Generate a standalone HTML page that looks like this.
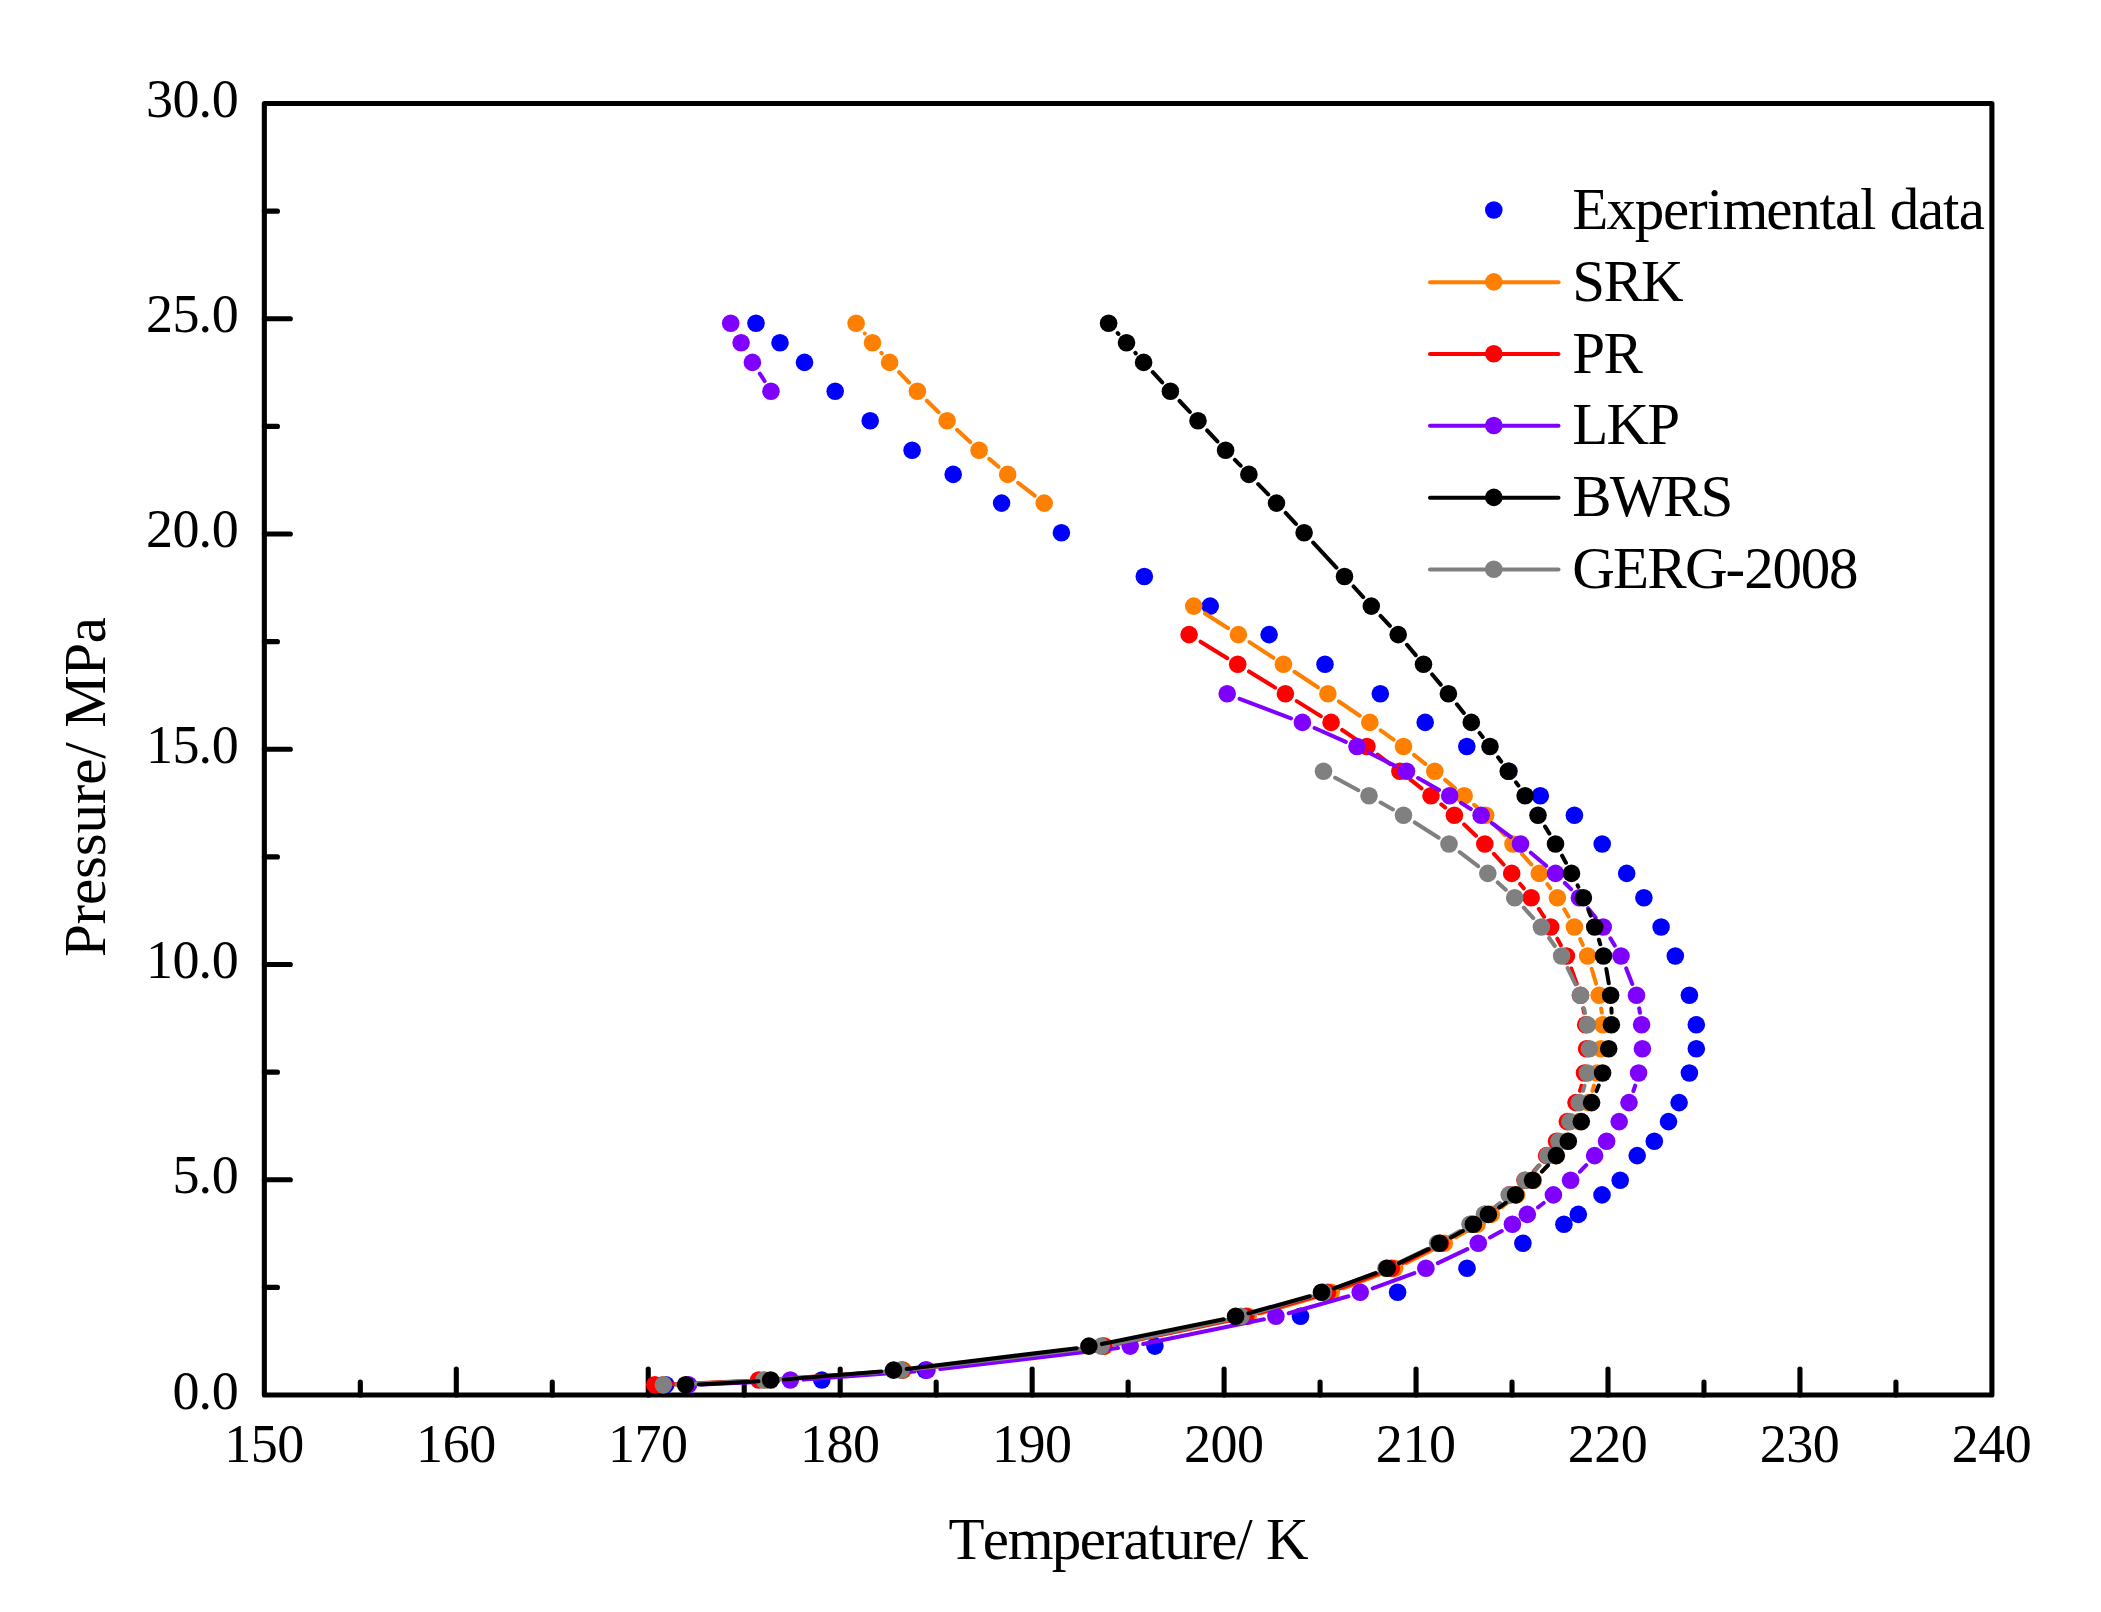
<!DOCTYPE html>
<html><head><meta charset="utf-8"><title>Phase envelope</title>
<style>html,body{margin:0;padding:0;background:#fff}svg{display:block}</style></head>
<body>
<svg width="2101" height="1612" viewBox="0 0 2101 1612">
<rect width="2101" height="1612" fill="#fff"/>
<rect x="264.35" y="103.55" width="1727.55" height="1291.50" fill="none" stroke="#000" stroke-width="5.1" stroke-linejoin="round"/>
<path d="M264.35 1287.42h13.1M264.35 1179.80h26.0M264.35 1072.17h13.1M264.35 964.55h26.0M264.35 856.92h13.1M264.35 749.30h26.0M264.35 641.67h13.1M264.35 534.05h26.0M264.35 426.42h13.1M264.35 318.80h26.0M264.35 211.17h13.1M360.33 1395.05v-13.1M456.30 1395.05v-26.0M552.28 1395.05v-13.1M648.25 1395.05v-26.0M744.23 1395.05v-13.1M840.20 1395.05v-26.0M936.18 1395.05v-13.1M1032.15 1395.05v-26.0M1128.13 1395.05v-13.1M1224.10 1395.05v-26.0M1320.08 1395.05v-13.1M1416.05 1395.05v-26.0M1512.03 1395.05v-13.1M1608.00 1395.05v-26.0M1703.98 1395.05v-13.1M1799.95 1395.05v-26.0M1895.93 1395.05v-13.1" stroke="#000" stroke-width="5.1" stroke-linecap="round" fill="none"/>
<g font-family="'Liberation Serif', 'Times New Roman', Times, serif">
<text  x="172.38 198.62 211.75" y="1408.5" font-size="54.0" fill="#000" font-kerning="none" style="font-kerning:none">0.0</text>
<text  x="172.38 198.62 211.75" y="1193.2" font-size="54.0" fill="#000" font-kerning="none" style="font-kerning:none">5.0</text>
<text  x="146.12 172.38 198.62 211.75" y="977.9" font-size="54.0" fill="#000" font-kerning="none" style="font-kerning:none">10.0</text>
<text  x="146.12 172.38 198.62 211.75" y="762.7" font-size="54.0" fill="#000" font-kerning="none" style="font-kerning:none">15.0</text>
<text  x="146.12 172.38 198.62 211.75" y="547.4" font-size="54.0" fill="#000" font-kerning="none" style="font-kerning:none">20.0</text>
<text  x="146.12 172.38 198.62 211.75" y="332.2" font-size="54.0" fill="#000" font-kerning="none" style="font-kerning:none">25.0</text>
<text  x="146.12 172.38 198.62 211.75" y="116.9" font-size="54.0" fill="#000" font-kerning="none" style="font-kerning:none">30.0</text>
<text  x="224.13 250.68 277.23" y="1462.3" font-size="54.0" fill="#000" font-kerning="none" style="font-kerning:none">150</text>
<text  x="416.08 442.63 469.18" y="1462.3" font-size="54.0" fill="#000" font-kerning="none" style="font-kerning:none">160</text>
<text  x="608.02 634.57 661.12" y="1462.3" font-size="54.0" fill="#000" font-kerning="none" style="font-kerning:none">170</text>
<text  x="799.98 826.53 853.08" y="1462.3" font-size="54.0" fill="#000" font-kerning="none" style="font-kerning:none">180</text>
<text  x="991.92 1018.47 1045.02" y="1462.3" font-size="54.0" fill="#000" font-kerning="none" style="font-kerning:none">190</text>
<text  x="1183.88 1210.42 1236.97" y="1462.3" font-size="54.0" fill="#000" font-kerning="none" style="font-kerning:none">200</text>
<text  x="1375.83 1402.38 1428.92" y="1462.3" font-size="54.0" fill="#000" font-kerning="none" style="font-kerning:none">210</text>
<text  x="1567.77 1594.32 1620.87" y="1462.3" font-size="54.0" fill="#000" font-kerning="none" style="font-kerning:none">220</text>
<text  x="1759.72 1786.27 1812.82" y="1462.3" font-size="54.0" fill="#000" font-kerning="none" style="font-kerning:none">230</text>
<text  x="1951.68 1978.23 2004.78" y="1462.3" font-size="54.0" fill="#000" font-kerning="none" style="font-kerning:none">240</text>
<text  x="948.40 982.82 1007.83 1051.66 1079.84 1104.85 1123.61 1148.62 1164.28 1192.45 1211.22 1236.23 1251.89 1265.97" y="1559.0" font-size="59.0" fill="#000" font-kerning="none" style="font-kerning:none">Temperature/ K</text>
<g transform="translate(105.2,956.9) rotate(-90)"><text  x="0.00 32.53 52.02 77.98 100.75 123.51 152.76 172.24 198.21 214.46 229.09 281.10 313.64" y="0.0" font-size="59.0" fill="#000" font-kerning="none" style="font-kerning:none">Pressure/ MPa</text></g>
<text  x="1572.20 1606.62 1634.80 1662.97 1687.98 1706.75 1722.40 1766.23 1791.24 1819.42 1835.07 1860.09 1875.74 1889.83 1918.00 1943.01 1958.67" y="229.1" font-size="59.0" fill="#000" font-kerning="none" style="font-kerning:none">Experimental data</text>
<text  x="1572.20 1603.54 1641.12" y="300.8" font-size="59.0" fill="#000" font-kerning="none" style="font-kerning:none">SRK</text>
<text  x="1572.20 1603.54" y="372.5" font-size="59.0" fill="#000" font-kerning="none" style="font-kerning:none">PR</text>
<text  x="1572.20 1606.62 1647.31" y="444.1" font-size="59.0" fill="#000" font-kerning="none" style="font-kerning:none">LKP</text>
<text  x="1572.20 1609.79 1662.97 1700.56" y="515.8" font-size="59.0" fill="#000" font-kerning="none" style="font-kerning:none">BWRS</text>
<text  x="1572.20 1612.89 1647.31 1684.90 1725.59 1744.36 1772.53 1800.71 1828.88" y="587.5" font-size="59.0" fill="#000" font-kerning="none" style="font-kerning:none">GERG-2008</text>
</g>
<circle cx="1493.8" cy="210.0" r="8.8" fill="#0000ff"/>
<path d="M1430.0 282.2H1558.5" stroke="#ff8000" stroke-width="4.05" stroke-linecap="round"/>
<circle cx="1493.8" cy="281.9" r="8.8" fill="#ff8000"/>
<path d="M1430.0 354.0H1558.5" stroke="#ff0000" stroke-width="4.05" stroke-linecap="round"/>
<circle cx="1493.8" cy="353.7" r="8.8" fill="#ff0000"/>
<path d="M1430.0 425.8H1558.5" stroke="#8000ff" stroke-width="4.05" stroke-linecap="round"/>
<circle cx="1493.8" cy="425.5" r="8.8" fill="#8000ff"/>
<path d="M1430.0 497.7H1558.5" stroke="#000000" stroke-width="4.05" stroke-linecap="round"/>
<circle cx="1493.8" cy="497.4" r="8.8" fill="#000000"/>
<path d="M1430.0 569.5H1558.5" stroke="#808080" stroke-width="4.05" stroke-linecap="round"/>
<circle cx="1493.8" cy="569.2" r="8.8" fill="#808080"/>
<g fill="#0000ff"><circle cx="756.0" cy="323.2" r="8.8"/><circle cx="780.0" cy="342.8" r="8.8"/><circle cx="804.5" cy="362.4" r="8.8"/><circle cx="835.2" cy="391.2" r="8.8"/><circle cx="870.2" cy="420.7" r="8.8"/><circle cx="912.1" cy="450.2" r="8.8"/><circle cx="953.2" cy="474.4" r="8.8"/><circle cx="1001.6" cy="503.1" r="8.8"/><circle cx="1061.4" cy="532.7" r="8.8"/><circle cx="1144.3" cy="576.5" r="8.8"/><circle cx="1210.2" cy="606.1" r="8.8"/><circle cx="1269.1" cy="634.6" r="8.8"/><circle cx="1325.0" cy="664.3" r="8.8"/><circle cx="1380.3" cy="693.8" r="8.8"/><circle cx="1425.2" cy="722.4" r="8.8"/><circle cx="1466.8" cy="746.5" r="8.8"/><circle cx="1509.0" cy="771.3" r="8.8"/><circle cx="1540.3" cy="795.7" r="8.8"/><circle cx="1574.4" cy="815.2" r="8.8"/><circle cx="1602.2" cy="844.0" r="8.8"/><circle cx="1626.7" cy="873.4" r="8.8"/><circle cx="1643.9" cy="897.8" r="8.8"/><circle cx="1661.1" cy="927.0" r="8.8"/><circle cx="1675.3" cy="956.0" r="8.8"/><circle cx="1689.4" cy="995.3" r="8.8"/><circle cx="1696.3" cy="1024.8" r="8.8"/><circle cx="1696.3" cy="1048.8" r="8.8"/><circle cx="1689.4" cy="1073.0" r="8.8"/><circle cx="1679.1" cy="1102.6" r="8.8"/><circle cx="1668.5" cy="1121.6" r="8.8"/><circle cx="1654.3" cy="1141.3" r="8.8"/><circle cx="1637.2" cy="1155.6" r="8.8"/><circle cx="1620.2" cy="1180.3" r="8.8"/><circle cx="1602.0" cy="1194.9" r="8.8"/><circle cx="1578.3" cy="1214.4" r="8.8"/><circle cx="1563.9" cy="1224.3" r="8.8"/><circle cx="1522.9" cy="1243.2" r="8.8"/><circle cx="1467.0" cy="1268.2" r="8.8"/><circle cx="1397.6" cy="1292.3" r="8.8"/><circle cx="1300.5" cy="1316.2" r="8.8"/><circle cx="1154.9" cy="1346.1" r="8.8"/><circle cx="925.4" cy="1370.1" r="8.8"/><circle cx="821.8" cy="1380.0" r="8.8"/><circle cx="665.8" cy="1384.7" r="8.8"/></g>
<path transform="translate(0.5,0.5)" d="M864.3 333.0L864.3 333.0M880.9 352.4L881.2 352.8M898.5 371.6L908.5 382.0M926.4 400.2L938.1 411.7M956.5 429.3L969.7 441.6M988.8 458.4L998.0 466.2M1017.7 482.3L1034.2 495.2M1204.5 613.0L1227.6 627.7M1249.0 641.6L1272.8 657.3M1294.0 671.3L1317.3 686.8M1338.4 701.0L1359.3 715.2M1380.2 729.8L1393.1 739.1M1413.5 754.4L1424.8 763.4M1444.6 779.4L1454.4 787.6M1473.6 804.3L1476.3 806.6M1494.5 824.5L1504.2 834.7M1521.5 853.5L1530.8 863.9M1546.9 883.6L1549.8 887.6M1563.8 908.8L1568.0 916.0M1579.7 938.6L1582.3 944.4M1591.2 968.2L1595.6 983.1M1600.7 1008.0L1601.3 1012.1M1593.5 1085.2L1591.9 1090.4M1547.0 1165.1L1541.8 1170.8M1506.5 1202.7L1501.4 1206.6M1466.1 1230.7L1455.3 1236.8M1432.9 1248.9L1405.9 1262.5M1382.6 1272.7L1343.1 1287.8M1318.9 1295.8L1260.5 1312.7M1235.7 1318.8L1117.4 1343.5M1092.2 1347.6L916.1 1368.6M890.7 1371.0L777.2 1379.1M751.8 1380.6L675.7 1384.1" stroke="#ff8000" stroke-width="4.05" stroke-linecap="round" fill="none"/>
<g fill="#ff8000"><circle cx="856.1" cy="323.2" r="8.8"/><circle cx="872.5" cy="342.8" r="8.8"/><circle cx="889.6" cy="362.4" r="8.8"/><circle cx="917.4" cy="391.2" r="8.8"/><circle cx="947.1" cy="420.7" r="8.8"/><circle cx="979.1" cy="450.2" r="8.8"/><circle cx="1007.7" cy="474.4" r="8.8"/><circle cx="1044.2" cy="503.1" r="8.8"/><circle cx="1193.7" cy="606.1" r="8.8"/><circle cx="1238.4" cy="634.6" r="8.8"/><circle cx="1283.4" cy="664.3" r="8.8"/><circle cx="1327.9" cy="693.8" r="8.8"/><circle cx="1369.8" cy="722.4" r="8.8"/><circle cx="1403.5" cy="746.5" r="8.8"/><circle cx="1434.8" cy="771.3" r="8.8"/><circle cx="1464.2" cy="795.7" r="8.8"/><circle cx="1485.7" cy="815.2" r="8.8"/><circle cx="1513.0" cy="844.0" r="8.8"/><circle cx="1539.3" cy="873.4" r="8.8"/><circle cx="1557.4" cy="897.8" r="8.8"/><circle cx="1574.4" cy="927.0" r="8.8"/><circle cx="1587.6" cy="956.0" r="8.8"/><circle cx="1599.2" cy="995.3" r="8.8"/><circle cx="1602.8" cy="1024.8" r="8.8"/><circle cx="1601.1" cy="1048.8" r="8.8"/><circle cx="1597.1" cy="1073.0" r="8.8"/><circle cx="1588.3" cy="1102.6" r="8.8"/><circle cx="1579.3" cy="1121.6" r="8.8"/><circle cx="1566.6" cy="1141.3" r="8.8"/><circle cx="1555.5" cy="1155.6" r="8.8"/><circle cx="1533.3" cy="1180.3" r="8.8"/><circle cx="1516.6" cy="1194.9" r="8.8"/><circle cx="1491.3" cy="1214.4" r="8.8"/><circle cx="1477.1" cy="1224.3" r="8.8"/><circle cx="1444.3" cy="1243.2" r="8.8"/><circle cx="1394.5" cy="1268.2" r="8.8"/><circle cx="1331.2" cy="1292.3" r="8.8"/><circle cx="1248.2" cy="1316.2" r="8.8"/><circle cx="1104.9" cy="1346.1" r="8.8"/><circle cx="903.4" cy="1370.1" r="8.8"/><circle cx="764.5" cy="1380.0" r="8.8"/><circle cx="663.0" cy="1384.7" r="8.8"/></g>
<path transform="translate(0.5,0.5)" d="M1200.0 641.2L1226.8 657.7M1248.5 671.0L1274.6 687.1M1296.2 700.6L1320.3 715.6M1341.7 729.5L1356.3 739.4M1377.1 754.2L1389.7 763.6M1409.9 779.2L1421.0 787.8M1440.8 803.9L1444.6 807.0M1463.7 824.0L1475.5 835.2M1493.4 853.4L1503.1 864.0M1519.7 883.4L1523.2 887.8M1538.3 908.4L1543.6 916.4M1556.8 938.2L1560.3 944.8M1570.7 968.0L1576.2 983.3M1582.7 1007.9L1583.5 1012.2M1581.0 1085.3L1579.5 1090.3M1538.2 1165.2L1533.4 1170.7M1499.5 1202.8L1495.0 1206.5M1460.2 1231.0L1451.3 1236.5M1429.1 1249.0L1402.6 1262.4M1379.3 1272.7L1339.4 1287.8M1315.3 1295.9L1258.0 1312.6M1233.3 1318.8L1116.0 1343.5M1090.8 1347.6L914.7 1368.6M889.3 1371.0L771.4 1379.1M746.0 1380.6L667.5 1384.1" stroke="#ff0000" stroke-width="4.05" stroke-linecap="round" fill="none"/>
<g fill="#ff0000"><circle cx="1189.1" cy="634.6" r="8.8"/><circle cx="1237.7" cy="664.3" r="8.8"/><circle cx="1285.4" cy="693.8" r="8.8"/><circle cx="1331.1" cy="722.4" r="8.8"/><circle cx="1366.9" cy="746.5" r="8.8"/><circle cx="1399.9" cy="771.3" r="8.8"/><circle cx="1431.0" cy="795.7" r="8.8"/><circle cx="1454.4" cy="815.2" r="8.8"/><circle cx="1484.8" cy="844.0" r="8.8"/><circle cx="1511.7" cy="873.4" r="8.8"/><circle cx="1531.2" cy="897.8" r="8.8"/><circle cx="1550.7" cy="927.0" r="8.8"/><circle cx="1566.4" cy="956.0" r="8.8"/><circle cx="1580.5" cy="995.3" r="8.8"/><circle cx="1585.7" cy="1024.8" r="8.8"/><circle cx="1586.6" cy="1048.8" r="8.8"/><circle cx="1584.5" cy="1073.0" r="8.8"/><circle cx="1576.0" cy="1102.6" r="8.8"/><circle cx="1567.3" cy="1121.6" r="8.8"/><circle cx="1556.6" cy="1141.3" r="8.8"/><circle cx="1546.6" cy="1155.6" r="8.8"/><circle cx="1525.0" cy="1180.3" r="8.8"/><circle cx="1509.5" cy="1194.9" r="8.8"/><circle cx="1485.0" cy="1214.4" r="8.8"/><circle cx="1471.0" cy="1224.3" r="8.8"/><circle cx="1440.5" cy="1243.2" r="8.8"/><circle cx="1391.2" cy="1268.2" r="8.8"/><circle cx="1327.5" cy="1292.3" r="8.8"/><circle cx="1245.8" cy="1316.2" r="8.8"/><circle cx="1103.5" cy="1346.1" r="8.8"/><circle cx="902.0" cy="1370.1" r="8.8"/><circle cx="758.7" cy="1380.0" r="8.8"/><circle cx="654.8" cy="1384.7" r="8.8"/></g>
<path transform="translate(0.5,0.5)" d="M759.3 373.1L764.1 380.5M1239.1 698.3L1290.5 717.9M1314.1 727.5L1345.3 741.4M1368.4 752.2L1395.1 765.6M1417.6 777.6L1438.6 789.4M1460.5 802.4L1470.3 808.5M1491.4 822.7L1510.2 836.5M1530.3 852.2L1545.7 865.2M1564.4 882.5L1570.5 888.7M1587.5 907.7L1595.1 917.1M1609.9 937.9L1614.3 945.1M1625.7 967.9L1631.8 983.4M1638.7 1007.9L1639.4 1012.2M1634.7 1085.1L1632.9 1090.5M1585.7 1164.7L1579.5 1171.2M1543.2 1202.5L1537.5 1206.8M1501.2 1230.5L1489.5 1237.0M1466.8 1248.7L1437.4 1262.7M1413.9 1272.6L1372.2 1287.9M1347.9 1295.8L1288.2 1312.7M1263.4 1318.8L1142.7 1343.5M1117.5 1347.6L939.7 1368.6M914.3 1371.0L803.0 1379.1M777.6 1380.6L701.2 1384.1" stroke="#8000ff" stroke-width="4.05" stroke-linecap="round" fill="none"/>
<g fill="#8000ff"><circle cx="730.7" cy="323.2" r="8.8"/><circle cx="741.1" cy="342.8" r="8.8"/><circle cx="752.4" cy="362.4" r="8.8"/><circle cx="771.0" cy="391.2" r="8.8"/><circle cx="1227.2" cy="693.8" r="8.8"/><circle cx="1302.4" cy="722.4" r="8.8"/><circle cx="1357.0" cy="746.5" r="8.8"/><circle cx="1406.5" cy="771.3" r="8.8"/><circle cx="1449.7" cy="795.7" r="8.8"/><circle cx="1481.1" cy="815.2" r="8.8"/><circle cx="1520.5" cy="844.0" r="8.8"/><circle cx="1555.5" cy="873.4" r="8.8"/><circle cx="1579.4" cy="897.8" r="8.8"/><circle cx="1603.2" cy="927.0" r="8.8"/><circle cx="1621.0" cy="956.0" r="8.8"/><circle cx="1636.5" cy="995.3" r="8.8"/><circle cx="1641.6" cy="1024.8" r="8.8"/><circle cx="1642.4" cy="1048.8" r="8.8"/><circle cx="1638.6" cy="1073.0" r="8.8"/><circle cx="1629.0" cy="1102.6" r="8.8"/><circle cx="1619.2" cy="1121.6" r="8.8"/><circle cx="1606.6" cy="1141.3" r="8.8"/><circle cx="1594.6" cy="1155.6" r="8.8"/><circle cx="1570.6" cy="1180.3" r="8.8"/><circle cx="1553.4" cy="1194.9" r="8.8"/><circle cx="1527.3" cy="1214.4" r="8.8"/><circle cx="1512.4" cy="1224.3" r="8.8"/><circle cx="1478.3" cy="1243.2" r="8.8"/><circle cx="1425.9" cy="1268.2" r="8.8"/><circle cx="1360.2" cy="1292.3" r="8.8"/><circle cx="1275.9" cy="1316.2" r="8.8"/><circle cx="1130.2" cy="1346.1" r="8.8"/><circle cx="927.0" cy="1370.1" r="8.8"/><circle cx="790.3" cy="1380.0" r="8.8"/><circle cx="688.5" cy="1384.7" r="8.8"/></g>
<path transform="translate(0.5,0.5)" d="M1334.7 777.3L1357.8 789.7M1380.1 802.0L1392.4 808.9M1414.3 822.0L1438.2 837.2M1459.2 851.7L1477.6 865.7M1497.2 882.0L1505.3 889.2M1523.3 907.2L1532.8 917.6M1548.7 937.5L1554.3 945.5M1567.1 967.5L1575.0 983.8M1583.4 1007.7L1584.5 1012.4M1584.0 1085.3L1582.6 1090.3M1539.1 1165.0L1533.9 1170.9M1499.3 1202.8L1494.4 1206.5M1459.0 1230.7L1448.6 1236.8M1426.1 1248.8L1397.5 1262.6M1374.1 1272.8L1335.4 1287.7M1311.3 1295.8L1253.1 1312.7M1228.4 1318.9L1113.8 1343.4M1088.6 1347.6L913.7 1368.6M888.3 1371.0L776.7 1379.1M751.3 1380.6L676.1 1384.1" stroke="#808080" stroke-width="4.05" stroke-linecap="round" fill="none"/>
<g fill="#808080"><circle cx="1323.5" cy="771.3" r="8.8"/><circle cx="1369.0" cy="795.7" r="8.8"/><circle cx="1403.5" cy="815.2" r="8.8"/><circle cx="1449.0" cy="844.0" r="8.8"/><circle cx="1487.8" cy="873.4" r="8.8"/><circle cx="1514.7" cy="897.8" r="8.8"/><circle cx="1541.4" cy="927.0" r="8.8"/><circle cx="1561.6" cy="956.0" r="8.8"/><circle cx="1580.5" cy="995.3" r="8.8"/><circle cx="1587.4" cy="1024.8" r="8.8"/><circle cx="1589.4" cy="1048.8" r="8.8"/><circle cx="1587.4" cy="1073.0" r="8.8"/><circle cx="1579.2" cy="1102.6" r="8.8"/><circle cx="1569.9" cy="1121.6" r="8.8"/><circle cx="1558.9" cy="1141.3" r="8.8"/><circle cx="1547.7" cy="1155.6" r="8.8"/><circle cx="1525.3" cy="1180.3" r="8.8"/><circle cx="1509.3" cy="1194.9" r="8.8"/><circle cx="1484.4" cy="1214.4" r="8.8"/><circle cx="1470.0" cy="1224.3" r="8.8"/><circle cx="1437.6" cy="1243.2" r="8.8"/><circle cx="1386.0" cy="1268.2" r="8.8"/><circle cx="1323.5" cy="1292.3" r="8.8"/><circle cx="1240.9" cy="1316.2" r="8.8"/><circle cx="1101.3" cy="1346.1" r="8.8"/><circle cx="901.0" cy="1370.1" r="8.8"/><circle cx="764.0" cy="1380.0" r="8.8"/><circle cx="663.4" cy="1384.7" r="8.8"/></g>
<path transform="translate(0.5,0.5)" d="M1117.2 332.6L1117.9 333.4M1134.9 352.4L1135.2 352.8M1152.3 371.7L1161.7 381.9M1179.1 400.5L1189.3 411.4M1206.7 430.0L1216.9 440.9M1234.4 459.4L1240.1 465.2M1257.7 483.6L1267.7 493.9M1285.2 512.4L1295.4 523.4M1312.7 542.1L1335.9 567.1M1353.1 586.0L1362.7 596.6M1380.1 615.4L1389.4 625.3M1406.5 644.3L1415.2 654.6M1431.7 674.0L1440.2 684.1M1456.4 703.8L1463.3 712.4M1479.1 732.5L1482.2 736.4M1497.6 756.8L1500.7 761.0M1515.5 781.8L1517.9 785.2M1544.6 826.1L1548.9 833.1M1561.6 855.2L1565.4 862.2M1577.1 884.9L1577.8 886.3M1588.0 909.7L1590.1 915.1M1598.4 939.2L1599.8 943.8M1605.8 968.5L1608.3 982.8M1610.9 1008.0L1611.1 1012.1M1598.2 1085.0L1596.0 1090.6M1547.5 1164.8L1541.4 1171.1M1505.2 1202.3L1498.8 1207.0M1462.3 1230.5L1450.5 1237.0M1427.9 1248.7L1398.6 1262.7M1375.1 1272.6L1333.5 1287.9M1309.2 1295.7L1247.9 1312.8M1223.1 1318.7L1101.4 1343.6M1076.2 1347.7L906.2 1368.5M880.8 1371.1L783.4 1379.0M758.0 1380.7L698.3 1384.0" stroke="#000000" stroke-width="4.05" stroke-linecap="round" fill="none"/>
<g fill="#000000"><circle cx="1108.6" cy="323.2" r="8.8"/><circle cx="1126.5" cy="342.8" r="8.8"/><circle cx="1143.6" cy="362.4" r="8.8"/><circle cx="1170.4" cy="391.2" r="8.8"/><circle cx="1198.0" cy="420.7" r="8.8"/><circle cx="1225.6" cy="450.2" r="8.8"/><circle cx="1248.9" cy="474.4" r="8.8"/><circle cx="1276.5" cy="503.1" r="8.8"/><circle cx="1304.1" cy="532.7" r="8.8"/><circle cx="1344.5" cy="576.5" r="8.8"/><circle cx="1371.3" cy="606.1" r="8.8"/><circle cx="1398.2" cy="634.6" r="8.8"/><circle cx="1423.5" cy="664.3" r="8.8"/><circle cx="1448.4" cy="693.8" r="8.8"/><circle cx="1471.3" cy="722.4" r="8.8"/><circle cx="1490.0" cy="746.5" r="8.8"/><circle cx="1508.3" cy="771.3" r="8.8"/><circle cx="1525.1" cy="795.7" r="8.8"/><circle cx="1538.0" cy="815.2" r="8.8"/><circle cx="1555.5" cy="844.0" r="8.8"/><circle cx="1571.5" cy="873.4" r="8.8"/><circle cx="1583.4" cy="897.8" r="8.8"/><circle cx="1594.7" cy="927.0" r="8.8"/><circle cx="1603.5" cy="956.0" r="8.8"/><circle cx="1610.6" cy="995.3" r="8.8"/><circle cx="1611.4" cy="1024.8" r="8.8"/><circle cx="1608.7" cy="1048.8" r="8.8"/><circle cx="1602.6" cy="1073.0" r="8.8"/><circle cx="1591.6" cy="1102.6" r="8.8"/><circle cx="1581.3" cy="1121.6" r="8.8"/><circle cx="1568.3" cy="1141.3" r="8.8"/><circle cx="1556.3" cy="1155.6" r="8.8"/><circle cx="1532.6" cy="1180.3" r="8.8"/><circle cx="1515.6" cy="1194.9" r="8.8"/><circle cx="1488.4" cy="1214.4" r="8.8"/><circle cx="1473.4" cy="1224.3" r="8.8"/><circle cx="1439.4" cy="1243.2" r="8.8"/><circle cx="1387.1" cy="1268.2" r="8.8"/><circle cx="1321.5" cy="1292.3" r="8.8"/><circle cx="1235.6" cy="1316.2" r="8.8"/><circle cx="1088.9" cy="1346.1" r="8.8"/><circle cx="893.5" cy="1370.1" r="8.8"/><circle cx="770.7" cy="1380.0" r="8.8"/><circle cx="685.6" cy="1384.7" r="8.8"/></g>
</svg>
</body></html>
